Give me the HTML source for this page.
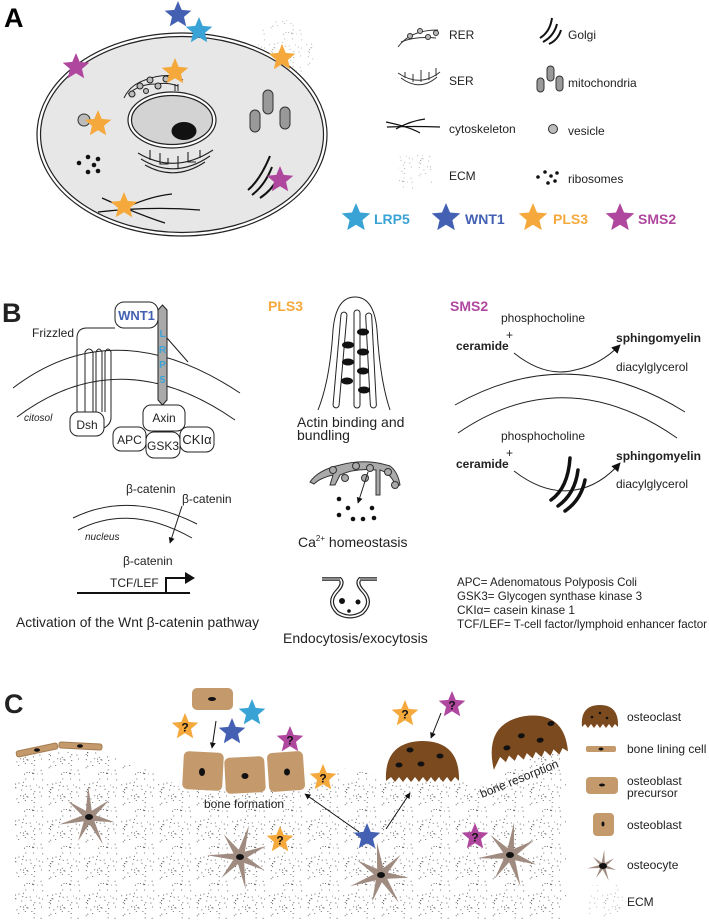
<!DOCTYPE html>
<html><head><meta charset="utf-8"><style>
html,body{margin:0;padding:0;background:#fff;}
svg{display:block;font-family:"Liberation Sans",Arial,sans-serif;}
</style></head><body>
<svg id="fig" width="709" height="920" viewBox="0 0 709 920" xmlns="http://www.w3.org/2000/svg">
<defs>
<pattern id="stip" width="37" height="37" patternUnits="userSpaceOnUse"><g id="stipdots" fill="#555"></g></pattern>
<marker id="ah" viewBox="0 0 10 10" refX="9" refY="5" markerWidth="6" markerHeight="6" orient="auto"><path d="M0,0L10,5L0,10z" fill="#111"/></marker>
<marker id="ahb" viewBox="0 0 10 10" refX="9" refY="5" markerWidth="9" markerHeight="9" orient="auto"><path d="M0,0L10,5L0,10z" fill="#111"/></marker>
</defs>

<!-- PANEL A -->
<g>
<text x="4" y="27" font-size="27" font-weight="bold">A</text>
<circle cx="285" cy="50" r="30" fill="url(#stip)" opacity="0.5"/>
<ellipse cx="182" cy="134.5" rx="145" ry="101.5" fill="#fff" stroke="#222" stroke-width="1.2"/>
<ellipse cx="182" cy="134.5" rx="141.5" ry="98" fill="#e7e7e7" stroke="#222" stroke-width="1.2"/>
<ellipse cx="172" cy="120" rx="44" ry="28" fill="#fff" stroke="#222" stroke-width="1.2"/>
<ellipse cx="172" cy="120" rx="40.5" ry="24.5" fill="#d3d3d3" stroke="#222" stroke-width="1.2"/>
<ellipse cx="184" cy="131" rx="12.5" ry="9" fill="#111"/>
<g fill="none" stroke="#222" stroke-width="1">
<path d="M124,98 Q130,85 145,80 Q160,74 175,76 L183,80"/><path d="M128,94 Q140,84 155,84 Q168,82 178,86"/>
<g fill="#bbb"><circle cx="140" cy="86" r="3"/><circle cx="150" cy="80" r="3"/><circle cx="158" cy="86" r="3"/><circle cx="166" cy="79" r="3"/><circle cx="132" cy="94" r="3"/><circle cx="146" cy="91" r="2.5"/></g>
<path d="M175,84 V91 M178,84 V91"/>
</g>
<g fill="none" stroke="#222" stroke-width="1.1">
<path d="M138,153 Q175,175 213,150"/><path d="M141,159 Q175,180 210,156"/><path d="M145,165 Q175,182 205,162"/>
<path d="M150,150 V160 M160,153 V164 H168 V158 M178,156 V168 M188,152 V162 H196 M200,150 V158"/>
</g>
<g fill="#999" stroke="#333">
<rect x="263" y="90" width="10" height="24" rx="5"/><rect x="280" y="107" width="10" height="22" rx="5"/><rect x="250" y="110" width="10" height="22" rx="5"/>
</g>
<circle cx="84" cy="120" r="6" fill="#bbb" stroke="#333"/>
<g fill="#111"><circle cx="79" cy="163" r="2.3"/><circle cx="88" cy="157" r="2.3"/><circle cx="98" cy="159" r="2.3"/><circle cx="94" cy="165" r="2.3"/><circle cx="88" cy="172" r="2.3"/><circle cx="98" cy="171" r="2.3"/></g>
<g fill="none" stroke="#111" stroke-width="2"><path d="M248,190 Q260,180 270,156"/><path d="M252,195 Q265,185 272,167"/><path d="M260,198 Q272,190 278,178"/></g>
<g fill="none" stroke="#111" stroke-width="1.3"><path d="M102,198 Q140,215 165,223"/><path d="M98,212 Q150,206 200,210"/><path d="M120,210 Q150,196 172,194"/></g>
</g>

<g font-size="12" fill="#222">
<g fill="none" stroke="#333" stroke-width="1"><path d="M398,47 Q410,30 438,30"/><path d="M401,42 Q415,36 436,38"/><g fill="#bbb"><circle cx="410" cy="36" r="2.5"/><circle cx="420" cy="31" r="2.5"/><circle cx="428" cy="37" r="2.5"/><circle cx="436" cy="33" r="2.5"/></g></g>
<text x="449" y="39">RER</text>
<g fill="none" stroke="#111" stroke-width="2"><path d="M540,38 Q550,32 552,18"/><path d="M543,42 Q554,36 557,24"/><path d="M549,44 Q558,40 561,30"/></g>
<text x="568" y="39">Golgi</text>
<g fill="none" stroke="#333" stroke-width="1"><path d="M398,73 Q420,88 440,72"/><path d="M401,78 Q420,92 437,77"/><path d="M405,72 V78 M413,74 V82 M421,70 V82 M429,72 V80 M436,68 V76"/></g>
<text x="449" y="85">SER</text>
<g fill="#999" stroke="#333"><rect x="547" y="66" width="7" height="15" rx="3.5"/><rect x="556" y="76" width="7" height="15" rx="3.5"/><rect x="537" y="78" width="7" height="14" rx="3.5"/></g>
<text x="568" y="87">mitochondria</text>
<g fill="none" stroke="#111" stroke-width="1.2"><path d="M386,122 Q410,127 420,133"/><path d="M387,127 Q415,126 440,127"/><path d="M396,129 Q410,121 425,119"/></g>
<text x="449" y="133">cytoskeleton</text>
<circle cx="553" cy="129" r="4.5" fill="#bbb" stroke="#333"/>
<text x="568" y="135">vesicle</text>
<rect x="398" y="155" width="34" height="35" fill="url(#stip)" opacity="0.5"/>
<text x="449" y="180">ECM</text>
<g fill="#111"><circle cx="538" cy="177" r="1.8"/><circle cx="545" cy="172" r="1.8"/><circle cx="551" cy="176" r="1.8"/><circle cx="557" cy="173" r="1.8"/><circle cx="548" cy="183" r="1.8"/><circle cx="555" cy="181" r="1.8"/></g>
<text x="568" y="183">ribosomes</text>
<g font-size="14" font-weight="bold">
<text x="374" y="224" fill="#3aa3d6">LRP5</text>
<text x="465" y="224" fill="#4360b3">WNT1</text>
<text x="553" y="224" fill="#f5a93c">PLS3</text>
<text x="638" y="224" fill="#b0479f">SMS2</text>
</g>
</g>

<!-- PANEL B -->
<g font-size="12" fill="#222">
<text x="2" y="322" font-size="27" font-weight="bold">B</text>
<g fill="none" stroke="#222" stroke-width="1">
<path d="M13,388 Q115,310 240,393"/><path d="M17,417 Q120,340 235,420"/>
</g>
<rect x="115" y="302" width="43" height="26" rx="9" fill="#fff" stroke="#222"/>
<text x="136.5" y="320" text-anchor="middle" font-size="13" font-weight="bold" fill="#4360b3">WNT1</text>
<path d="M162.5,305 L167,310 L167,400 L162.5,405 L158,400 L158,310 Z" fill="#a9a9a9" stroke="#222"/>
<g font-size="10" font-weight="bold" fill="#3aa3d6" text-anchor="middle"><text x="162.5" y="337">L</text><text x="162.5" y="353">R</text><text x="162.5" y="368">P</text><text x="162.5" y="383">5</text></g>
<path d="M167,338 L188,362" stroke="#222" fill="none"/>
<text x="32" y="337">Frizzled</text>
<path d="M115,328 H87 Q77,328 77,338 V412" fill="none" stroke="#222"/>
<path d="M85,412 V352 Q89,346 93,352 V412 M96,412 V352 Q99,346 102,352 V412 M105,412 V352 Q108,346 111,352 V418 Q111,424 104,428" fill="none" stroke="#222"/>
<text x="24" y="421" font-size="10" font-style="italic">citosol</text>
<rect x="70" y="412" width="34" height="24" rx="8" fill="#fff" stroke="#222"/>
<text x="87" y="429" text-anchor="middle">Dsh</text>
<rect x="113" y="427" width="33" height="24" rx="8" fill="#fff" stroke="#222"/>
<text x="129.5" y="444" text-anchor="middle">APC</text>
<rect x="180" y="427" width="34" height="25" rx="8" fill="#fff" stroke="#222"/>
<text x="197" y="444" text-anchor="middle" font-size="13">CKIα</text>
<rect x="146" y="432" width="34" height="26" rx="8" fill="#fff" stroke="#222"/>
<text x="163" y="450" text-anchor="middle">GSK3</text>
<rect x="143" y="405" width="42" height="26" rx="8" fill="#fff" stroke="#222"/>
<text x="164" y="422" text-anchor="middle">Axin</text>

<text x="126" y="493">β-catenin</text>
<text x="182" y="503">β-catenin</text>
<g fill="none" stroke="#222"><path d="M73,518 Q130,490 197,524"/><path d="M78,530 Q130,503 192,538"/></g>
<text x="85" y="540" font-size="10" font-style="italic">nucleus</text>
<path d="M182,506 L170,543" stroke="#222" marker-end="url(#ah)"/>
<text x="123" y="565">β-catenin</text>
<text x="110" y="587">TCF/LEF</text>
<path d="M77,593 H190 M166,593 V578 H186" fill="none" stroke="#111" stroke-width="2"/>
<path d="M185,572 L195,578 L185,584 Z" fill="#111"/>
<text x="16" y="627" font-size="14" textLength="243" lengthAdjust="spacingAndGlyphs">Activation of the Wnt β-catenin pathway</text>

<text x="268" y="311" font-size="14" font-weight="bold" fill="#f5a93c">PLS3</text>
<path d="M318,410 Q330,380 333,330 Q336,297 355,297 Q374,297 377,330 Q380,380 390,410" fill="none" stroke="#222"/>
<g fill="#fff" stroke="#222">
<rect x="337" y="312" width="6" height="96" rx="3" transform="rotate(5 340 360)"/><rect x="354" y="310" width="6" height="98" rx="3"/><rect x="368" y="313" width="6" height="95" rx="3" transform="rotate(-3 371 360)"/>
</g>
<g fill="#111"><ellipse cx="348" cy="345" rx="6" ry="3.5"/><ellipse cx="348" cy="362" rx="6" ry="3.5"/><ellipse cx="347" cy="381" rx="6" ry="3.5"/><ellipse cx="363" cy="332" rx="6" ry="3.5"/><ellipse cx="363" cy="352" rx="6" ry="3.5"/><ellipse cx="363" cy="371" rx="6" ry="3.5"/><ellipse cx="364" cy="390" rx="6" ry="3.5"/></g>
<text x="297" y="427" font-size="14">Actin binding and</text>
<text x="297" y="440" font-size="14">bundling</text>
<g fill="#aaa" stroke="#333" stroke-width="1">
<path d="M310,482 Q318,470 340,465 Q365,458 390,466 Q398,472 400,485 L396,487 Q392,474 380,470 L380,495 L376,495 L376,470 Q355,468 340,475 L335,485 L330,485 L333,475 Q320,478 314,484 Z"/>
<circle cx="333" cy="470" r="3.5"/><circle cx="345" cy="478" r="3.5"/><circle cx="356" cy="466" r="3.5"/><circle cx="365" cy="478" r="3.5"/><circle cx="370" cy="468" r="3.5"/><circle cx="388" cy="472" r="3.5"/><circle cx="395" cy="485" r="3.5"/>
</g>
<path d="M368,472 L358,503" stroke="#222" marker-end="url(#ah)"/>
<g fill="#111"><circle cx="339" cy="499" r="2.3"/><circle cx="348" cy="508" r="2.3"/><circle cx="372" cy="508" r="2.3"/><circle cx="339" cy="515" r="2.3"/><circle cx="353" cy="519" r="2.3"/><circle cx="363" cy="519" r="2.3"/><circle cx="374" cy="518" r="2.3"/></g>
<text x="298" y="547" font-size="14">Ca<tspan font-size="8" dy="-6">2+</tspan><tspan dy="6"> homeostasis</tspan></text>
<g fill="none">
<path d="M322,579 H340 Q344,583 338,590 Q326,602 338,613 Q350,620 362,613 Q374,602 362,590 Q356,583 360,579 H377" stroke="#222" stroke-width="4"/>
<path d="M322,579 H340 Q344,583 338,590 Q326,602 338,613 Q350,620 362,613 Q374,602 362,590 Q356,583 360,579 H377" stroke="#fff" stroke-width="1.6"/>
<path d="M322,579 H340 M360,579 H377" stroke="#888" stroke-width="3"/>
<g fill="#111" stroke="none"><circle cx="342" cy="601" r="3"/><circle cx="358" cy="602" r="2.5"/><circle cx="349" cy="611" r="1.8"/></g>
</g>
<text x="283" y="643" font-size="14">Endocytosis/exocytosis</text>

<text x="450" y="311" font-size="14" font-weight="bold" fill="#b0479f">SMS2</text>
<text x="501" y="322">phosphocholine</text>
<text x="506" y="339">+</text>
<text x="456" y="350" font-weight="bold">ceramide</text>
<path d="M514,353 Q545,378 575,370 Q600,365 620,345" fill="none" stroke="#222" marker-end="url(#ahb)"/>
<text x="616" y="342" font-weight="bold" textLength="85" lengthAdjust="spacingAndGlyphs">sphingomyelin</text>
<text x="616" y="371">diacylglycerol</text>
<g fill="none" stroke="#222"><path d="M455,405 Q570,340 685,412"/><path d="M458,433 Q565,360 677,438"/></g>
<text x="501" y="440">phosphocholine</text>
<text x="506" y="457">+</text>
<text x="456" y="468" font-weight="bold">ceramide</text>
<path d="M514,471 Q545,495 575,490 Q600,486 620,463" fill="none" stroke="#222" marker-end="url(#ahb)"/>
<g fill="none" stroke="#111" stroke-width="3.5" stroke-linecap="round"><path d="M551,500 Q568,488 570,458"/><path d="M558,506 Q575,494 578,470"/><path d="M565,511 Q581,500 585,480"/></g>
<text x="616" y="460" font-weight="bold" textLength="85" lengthAdjust="spacingAndGlyphs">sphingomyelin</text>
<text x="616" y="488">diacylglycerol</text>
<g font-size="12">
<text x="457" y="586" textLength="180" lengthAdjust="spacingAndGlyphs">APC= Adenomatous Polyposis Coli</text>
<text x="457" y="600" textLength="185" lengthAdjust="spacingAndGlyphs">GSK3= Glycogen synthase kinase 3</text>
<text x="457" y="614" textLength="118" lengthAdjust="spacingAndGlyphs">CKIα= casein kinase 1</text>
<text x="457" y="628" textLength="250" lengthAdjust="spacingAndGlyphs">TCF/LEF= T-cell factor/lymphoid enhancer factor</text>
</g>
</g>

<!-- PANEL C -->
<g font-size="12" fill="#222">
<text x="4" y="713" font-size="27" font-weight="bold">C</text>
<path d="M15,757 L60,752 L100,752 L125,762 L150,770 L178,786 L305,790 L320,776 L345,768 L385,778 L462,777 L472,790 L553,747 L566,745 L566,920 L15,920 Z" fill="url(#stip)"/>
<g fill="#c49a6c" stroke="#a57c50">
<rect x="16" y="747" width="42" height="6" rx="2" transform="rotate(-12 37 750)"/><rect x="59" y="743" width="43" height="6" rx="2" transform="rotate(3 80 746)"/>
</g>
<g fill="#111"><ellipse cx="37" cy="750" rx="3" ry="1.8"/><ellipse cx="80" cy="746" rx="3" ry="1.8"/></g>
<rect x="192" y="688" width="41" height="22" rx="5" fill="#c49a6c"/>
<ellipse cx="212" cy="699" rx="4" ry="2" fill="#111"/>
<g fill="#c49a6c">
<rect x="183" y="752" width="40" height="38" rx="5" transform="rotate(3 203 771)"/><rect x="225" y="757" width="40" height="36" rx="5" transform="rotate(-3 245 775)"/><rect x="268" y="752" width="36" height="39" rx="5" transform="rotate(-4 286 771)"/>
</g>
<g fill="#111"><ellipse cx="202" cy="772" rx="3" ry="4"/><ellipse cx="245" cy="776" rx="3.5" ry="3"/><ellipse cx="287" cy="772" rx="3" ry="3.5"/></g>
<text x="204" y="808">bone formation</text>
<path d="M386,781 Q384,742 422,741 Q460,741 459,781 L455,777 L451,782 L447,777 L443,782 L439,777 L435,782 L431,777 L427,782 L423,777 L419,782 L415,777 L411,782 L407,777 L403,782 L399,777 L395,782 L391,777 Z" fill="#7b4a1e"/>
<g fill="#111"><ellipse cx="399" cy="765" rx="3.5" ry="2.5"/><ellipse cx="421" cy="764" rx="3.5" ry="2.5"/><ellipse cx="440" cy="756" rx="3.5" ry="2.5"/><ellipse cx="410" cy="750" rx="3.5" ry="2.5"/></g>
<g transform="rotate(-8 527 740)">
<path d="M490,765 Q486,718 527,716 Q568,716 566,757 L561,753 L557,759 L552,753 L548,759 L543,753 L539,759 L534,753 L530,759 L525,753 L521,759 L516,753 L512,759 L507,753 L503,759 L498,753 L494,759 Z" fill="#7b4a1e"/>
<g fill="#111"><ellipse cx="506" cy="745" rx="3.5" ry="2.5"/><ellipse cx="522" cy="735" rx="3.5" ry="2.5"/><ellipse cx="540" cy="742" rx="3.5" ry="2.5"/><ellipse cx="553" cy="727" rx="3.5" ry="2.5"/></g>
</g>
<text x="482" y="798" transform="rotate(-22 482 798)">bone resorption</text>
<g stroke="#111" fill="none">
<path d="M216,721 L212,748" marker-end="url(#ah)"/>
<path d="M441,713 L431,738" marker-end="url(#ah)"/>
<path d="M359,832 L305,794" marker-end="url(#ah)"/>
<path d="M386,829 L410,793" marker-end="url(#ah)"/>
</g>
<g id="osteocytes"></g>

<path d="M582,727 Q580,705 600,705 Q619,705 618,727 L615,724 L612,728 L609,724 L606,728 L603,724 L600,728 L597,724 L594,728 L591,724 L588,728 L585,724 Z" fill="#7b4a1e"/>
<g fill="#111"><circle cx="592" cy="717" r="1.3"/><circle cx="600" cy="713" r="1.3"/><circle cx="607" cy="718" r="1.3"/></g>
<text x="627" y="721">osteoclast</text>
<rect x="586" y="746" width="30" height="6" rx="2" fill="#c49a6c"/>
<ellipse cx="601" cy="749" rx="2.5" ry="1.5" fill="#111"/>
<text x="627" y="753">bone lining cell</text>
<rect x="586" y="777" width="32" height="17" rx="4" fill="#c49a6c"/>
<ellipse cx="602" cy="785" rx="3" ry="1.5" fill="#111"/>
<text x="627" y="785">osteoblast</text>
<text x="627" y="797">precursor</text>
<rect x="593" y="813" width="21" height="23" rx="4" fill="#c49a6c"/>
<ellipse cx="603" cy="824" rx="1.5" ry="2.5" fill="#111"/>
<text x="627" y="829">osteoblast</text>
<text x="627" y="869">osteocyte</text>
<rect x="589" y="885" width="34" height="32" fill="url(#stip)" opacity="0.5"/>
<text x="627" y="906">ECM</text>
</g>
<g id="stars"></g>
</svg>
<script>
var NS="http://www.w3.org/2000/svg";
var sd=document.getElementById('stipdots');var seed=7;
function rnd(){seed=(seed*16807)%2147483647;return seed/2147483647;}
for(var i=0;i<50;i++){var c=document.createElementNS(NS,'circle');c.setAttribute('cx',(rnd()*37).toFixed(1));c.setAttribute('cy',(rnd()*37).toFixed(1));c.setAttribute('r','0.55');sd.appendChild(c);}
var COL={lrp5:'#3aa3d6',wnt1:'#4360b3',pls3:'#f5a93c',sms2:'#b0479f'};
function star(cx,cy,r,key,q,name){
  var p=[];for(var k=0;k<10;k++){var a=-Math.PI/2+k*Math.PI/5;var rr=k%2?r*0.45:r;p.push((cx+rr*Math.cos(a)).toFixed(1)+','+(cy+rr*Math.sin(a)).toFixed(1));}
  var g=document.createElementNS(NS,'g');
  
  
  var pl=document.createElementNS(NS,'polygon');pl.setAttribute('points',p.join(' '));pl.setAttribute('fill',COL[key]);g.appendChild(pl);
  if(q){var t=document.createElementNS(NS,'text');t.setAttribute('x',cx);t.setAttribute('y',cy+4.5);t.setAttribute('text-anchor','middle');t.setAttribute('font-size','12');t.setAttribute('font-weight','bold');t.setAttribute('fill','#111');t.textContent='?';g.appendChild(t);}
  document.getElementById('stars').appendChild(g);
}
star(178,15,14,'wnt1',0,'wnt1-star-membrane');
star(199,31,14,'lrp5',0,'lrp5-star-membrane');
star(76,67,14,'sms2',0,'sms2-star-membrane');
star(175,72,14,'pls3',0,'pls3-star-er');
star(282,58,14,'pls3',0,'pls3-star-ecm');
star(98,124,14,'pls3',0,'pls3-star-vesicle');
star(124,206,14,'pls3',0,'pls3-star-cytoskeleton');
star(280,180,14,'sms2',0,'sms2-star-golgi');
star(356,218,15,'lrp5',0,'legend-lrp5-star');
star(446,218,15,'wnt1',0,'legend-wnt1-star');
star(533,218,15,'pls3',0,'legend-pls3-star');
star(620,218,15,'sms2',0,'legend-sms2-star');
star(185,727,14,'pls3',1,'pls3-star-precursor');
star(232,732,14,'wnt1',0,'wnt1-star-precursor');
star(252,713,14,'lrp5',0,'lrp5-star-precursor');
star(290,740,14,'sms2',1,'sms2-star-osteoblast');
star(323,778,14,'pls3',1,'pls3-star-osteoblast');
star(405,714,14,'pls3',1,'pls3-star-osteoclast');
star(452,705,14,'sms2',1,'sms2-star-osteoclast');
star(280,840,14,'pls3',1,'pls3-star-osteocyte');
star(367,837,14,'wnt1',0,'wnt1-star-osteocyte');
star(475,837,14,'sms2',1,'sms2-star-osteocyte');
function osteo(cx,cy,s,rot,name){
  var n=7,p=[];for(var k=0;k<n*2;k++){var a=rot+k*Math.PI/n;var rr=k%2?s*0.22:s*(k%4?1:0.85);p.push((cx+rr*Math.cos(a)).toFixed(1)+','+(cy+rr*Math.sin(a)).toFixed(1));}
  var g=document.createElementNS(NS,'g');
  
  
  var pl=document.createElementNS(NS,'polygon');pl.setAttribute('points',p.join(' '));pl.setAttribute('fill','#a08b80');g.appendChild(pl);
  var e=document.createElementNS(NS,'ellipse');e.setAttribute('cx',cx);e.setAttribute('cy',cy);e.setAttribute('rx',4);e.setAttribute('ry',3);e.setAttribute('fill','#111');g.appendChild(e);
  document.getElementById('osteocytes').appendChild(g);
}
osteo(89,817,31,0.2,'osteocyte-1');
osteo(240,857,33,0.5,'osteocyte-2');
osteo(381,875,33,0.1,'osteocyte-3');
osteo(510,855,33,0.35,'osteocyte-4');
osteo(603,866,16,0.3,'legend-osteocyte-icon');
</script>
</body></html>
